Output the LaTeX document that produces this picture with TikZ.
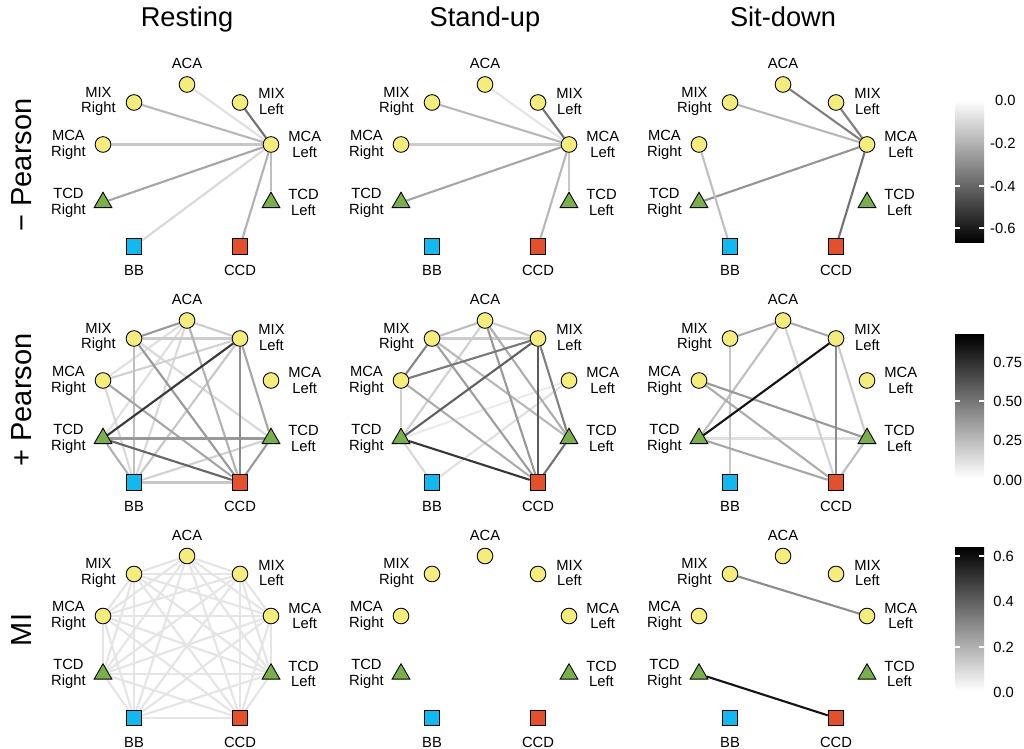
\documentclass[tikz,border=0pt]{standalone}
\usepackage{fontspec}
\setmainfont{Liberation Sans}
\usetikzlibrary{shapes.geometric}
\pgfdeclarelayer{background}
\pgfsetlayers{background,main}

\definecolor{roiyellow}{HTML}{F4EC7B}
\definecolor{tcdgreen}{HTML}{79B04A}
\definecolor{bbcyan}{HTML}{12B9F0}
\definecolor{ccdred}{HTML}{E2502C}

\newcommand{\lblfont}{\fontsize{8.4}{9}\selectfont}

% one ring of nine probes, #1 = name prefix, (#2,#3) = position of ACA
\newcommand{\brainpanel}[3]{%
	\node[roi] (#1-aca) at (#2,#3) {};
	\node[roi] (#1-mixr) at ({#2-53},{#3+18}) {};
	\node[roi] (#1-mixl) at ({#2+53},{#3+18}) {};
	\node[roi] (#1-mcar) at ({#2-84},{#3+60}) {};
	\node[roi] (#1-mcal) at ({#2+84},{#3+60}) {};
	\node[tcd] (#1-tcdr) at ({#2-84},{#3+118}) {};
	\node[tcd] (#1-tcdl) at ({#2+84},{#3+118}) {};
	\node[probe, fill=bbcyan] (#1-bb) at ({#2-53},{#3+162}) {};
	\node[probe, fill=ccdred] (#1-ccd) at ({#2+53},{#3+162}) {};
	\node[lbl] (#1-aca-t) at (#2,{#3-21}) {ACA};
	\node[lbl, anchor=east] (#1-mixr-t) at ({#2-71},{#3+17}) {MIX\\Right};
	\node[lbl, anchor=west] (#1-mixl-t) at ({#2+71},{#3+17}) {MIX\\Left};
	\node[lbl, anchor=east] (#1-mcar-t) at ({#2-101},{#3+60}) {MCA\\Right};
	\node[lbl, anchor=west] (#1-mcal-t) at ({#2+101},{#3+60}) {MCA\\Left};
	\node[lbl, anchor=east] (#1-tcdr-t) at ({#2-101},{#3+118}) {TCD\\Right};
	\node[lbl, anchor=west] (#1-tcdl-t) at ({#2+101},{#3+118}) {TCD\\Left};
	\node[lbl] (#1-bb-t) at ({#2-53},{#3+186}) {BB};
	\node[lbl] (#1-ccd-t) at ({#2+53},{#3+186}) {CCD};
}

\begin{document}
\begin{tikzpicture}[
		x=0.02cm, y=-0.02cm,
		roi/.style={circle, draw=black, fill=roiyellow, minimum size=0.314cm, inner sep=0pt, line width=0.5pt},
		tcd/.style={regular polygon, regular polygon sides=3, draw=black, fill=tcdgreen, minimum size=0.41cm, inner sep=0pt, line width=0.5pt},
		probe/.style={rectangle, draw=black, minimum size=0.314cm, inner sep=0pt, line width=0.5pt},
		lbl/.style={font=\lblfont, align=center, inner sep=0pt},
		edge/.style={line width=1.2pt},
		coltitle/.style={font=\fontsize{15.5}{18}\selectfont, anchor=base},
		rowtitle/.style={font=\fontsize{16.5}{19}\selectfont, rotate=90},
		barlbl/.style={font=\lblfont, inner sep=0pt},
		bartick/.style={white, line width=0.6pt}
	]
	\useasboundingbox (0,0) rectangle (1024,749);

	% column and row titles
	\node[coltitle] (t-rest) at (187,27) {Resting};
	\node[coltitle] (t-stand) at (485,27) {Stand-up};
	\node[coltitle] (t-sit) at (783,27) {Sit-down};
	\node[rowtitle] (r-neg) at (22,165) {− Pearson};
	\node[rowtitle] (r-pos) at (22,400) {+ Pearson};
	\node[rowtitle] (r-mi) at (22,630) {MI};

	% nine panels
	\brainpanel{p11}{187}{84.5}
	\brainpanel{p12}{485}{84.5}
	\brainpanel{p13}{783}{84.5}
	\brainpanel{p21}{187}{320.5}
	\brainpanel{p22}{485}{320.5}
	\brainpanel{p23}{783}{320.5}
	\brainpanel{p31}{187}{556}
	\brainpanel{p32}{485}{556}
	\brainpanel{p33}{783}{556}

	\begin{pgfonlayer}{background}
		\fill[white] (0,0) rectangle (1024,749);
		% - Pearson
		\foreach \v/\g in {aca/12, mixr/28, mixl/55, mcar/22, tcdr/35, tcdl/25, bb/15, ccd/30}
			\draw[edge, black!\g] (p11-mcal) -- (p11-\v);
		\foreach \v/\g in {aca/10, mixr/28, mixl/55, mcar/20, tcdr/35, tcdl/22, ccd/28}
			\draw[edge, black!\g] (p12-mcal) -- (p12-\v);
		\foreach \v/\g in {aca/50, mixr/28, mixl/50, tcdr/42, ccd/55}
			\draw[edge, black!\g] (p13-mcal) -- (p13-\v);
		\draw[edge, black!25] (p13-mcar) -- (p13-bb);

		% + Pearson
		\foreach \u/\v/\g in {aca/bb/15, aca/tcdr/12, mcar/aca/12, mcar/bb/15, mixr/tcdl/15,
				tcdl/bb/18, mcar/mixl/18, aca/mixl/20, mixr/mixl/20, bb/ccd/22, mixl/bb/22,
				mixr/bb/25, aca/ccd/30, tcdr/bb/30, mcar/ccd/35, mixl/tcdl/35, aca/mixr/40,
				mixr/ccd/40, tcdr/tcdl/40, tcdl/ccd/40, mixl/ccd/45, tcdr/ccd/60, tcdr/mixl/78}
			\draw[edge, black!\g] (p21-\u) -- (p21-\v);
		\foreach \u/\v/\g in {tcdr/mcal/8, bb/mcal/12, tcdr/bb/15, aca/tcdr/18, mcar/tcdr/18,
				aca/mixl/20, mixr/mixl/20, aca/mixr/25, mixr/tcdl/28, aca/tcdl/32, mcar/ccd/32,
				mixr/ccd/38, aca/ccd/40, mixr/mcar/48, mixl/tcdl/50, mcar/mixl/52, tcdl/ccd/55,
				mixl/tcdr/62, mixl/ccd/65, tcdr/ccd/78}
			\draw[edge, black!\g] (p22-\u) -- (p22-\v);
		\foreach \u/\v/\g in {tcdr/tcdl/12, aca/ccd/18, mixl/tcdl/20, mixr/bb/22, aca/tcdr/25,
				tcdl/ccd/25, mcar/ccd/32, aca/mixr/33, aca/mixl/33, tcdr/ccd/35, mcar/tcdl/40,
				mixl/ccd/45, mixl/tcdr/92}
			\draw[edge, black!\g] (p23-\u) -- (p23-\v);

		% MI
		\foreach \u [count=\i] in {aca,mixr,mixl,mcar,mcal,tcdr,tcdl,bb,ccd}
			\foreach \v [count=\j] in {aca,mixr,mixl,mcar,mcal,tcdr,tcdl,bb,ccd}
				{\ifnum\j>\i \draw[edge, black!10] (p31-\u) -- (p31-\v); \fi}
		\draw[edge, black!45] (p33-mixr) -- (p33-mcal);
		\draw[edge, black!92] (p33-tcdr) -- (p33-ccd);
	\end{pgfonlayer}

	% colour bars
	\shade[top color=white, bottom color=black] (955,100) rectangle (984,243);
	\draw[bartick] (955,186) -- +(5,0) (984,186) -- +(-5,0);
	\draw[bartick] (955,228) -- +(5,0) (984,228) -- +(-5,0);
	\node[barlbl, anchor=east] (b1-0) at (1016,100) {0.0};
	\node[barlbl, anchor=east] (b1-2) at (1016,143) {-0.2};
	\node[barlbl, anchor=east] (b1-4) at (1016,186) {-0.4};
	\node[barlbl, anchor=east] (b1-6) at (1016,228) {-0.6};

	\shade[top color=black, bottom color=white] (955,335) rectangle (984,478);
	\draw[bartick] (955,401) -- +(5,0) (984,401) -- +(-5,0);
	\node[barlbl, anchor=west] (b2-75) at (993,362) {0.75};
	\node[barlbl, anchor=west] (b2-50) at (993,401) {0.50};
	\node[barlbl, anchor=west] (b2-25) at (993,440) {0.25};
	\node[barlbl, anchor=west] (b2-0) at (993,480) {0.00};

	\shade[top color=black, bottom color=white] (955,547) rectangle (984,691);
	\draw[bartick] (955,556) -- +(5,0) (984,556) -- +(-5,0);
	\draw[bartick] (955,647) -- +(5,0) (984,647) -- +(-5,0);
	\node[barlbl, anchor=west] (b3-6) at (993,556) {0.6};
	\node[barlbl, anchor=west] (b3-4) at (993,601.5) {0.4};
	\node[barlbl, anchor=west] (b3-2) at (993,647) {0.2};
	\node[barlbl, anchor=west] (b3-0) at (993,692) {0.0};
\end{tikzpicture}
\end{document}
